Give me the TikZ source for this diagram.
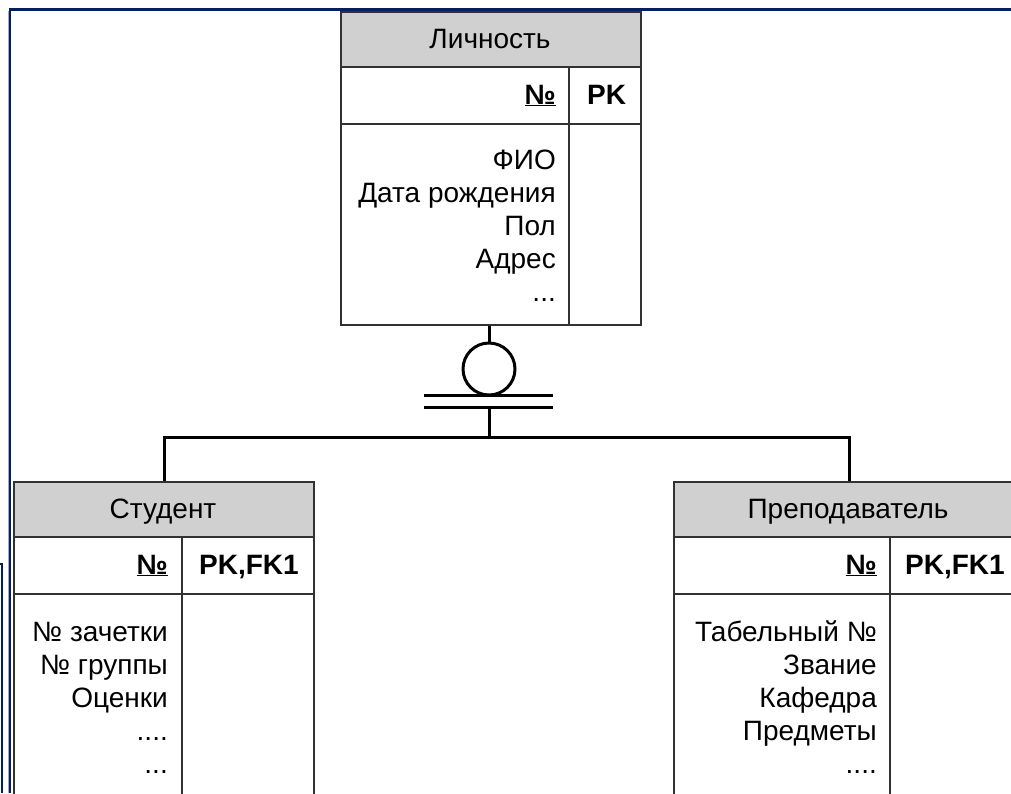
\documentclass[tikz,border=0pt]{standalone}
\usepackage{fontspec}
\setmainfont{Liberation Sans}
\definecolor{framenavy}{RGB}{0,32,96}
\definecolor{framegray}{RGB}{170,170,180}
\definecolor{boxgray}{RGB}{50,50,50}
\definecolor{hdrgray}{RGB}{208,208,208}
\begin{document}
\begin{tikzpicture}[x=1pt,y=-1pt,
  cell/.style={draw=boxgray, line width=2pt, inner sep=0pt, anchor=north west},
  hdrcell/.style={cell, fill=hdrgray},
  conn/.style={draw=black, line width=3pt},
  lbl/.style={font=\fontsize{28}{33}\selectfont, inner sep=0pt},
  rtxt/.style={lbl, anchor=base east},
  ctxt/.style={lbl, anchor=base},
  keytxt/.style={lbl, font=\fontsize{28}{33}\selectfont\bfseries}]
\clip (0,0) rectangle (1011,793);
\fill[white] (0,0) rectangle (1011,793);

% ---------- Личность ----------
\node[hdrcell, minimum width=300, minimum height=55] (lichH) at (340,11) {};
\node[cell, minimum width=228, minimum height=57] (lichK) at (340,66) {};
\node[cell, minimum width=72, minimum height=57] (lichKR) at (568,66) {};
\node[cell, minimum width=228, minimum height=201] (lichB) at (340,123) {};
\node[cell, minimum width=72, minimum height=201] (lichBR) at (568,123) {};
\node[ctxt] (lichT) at (490,48) {Личность};
\node[keytxt, anchor=base east] (lichNo) at (556,104) {\underline{№}};
\node[keytxt, anchor=base west] (lichPK) at (587,104) {PK};
\node[rtxt] (lich1) at (556,169) {ФИО};
\node[rtxt] (lich2) at (556,202) {Дата рождения};
\node[rtxt] (lich3) at (556,235) {Пол};
\node[rtxt] (lich4) at (556,268) {Адрес};
\node[rtxt] (lich5) at (556,301) {...};

% ---------- Студент ----------
\node[hdrcell, minimum width=300, minimum height=55] (studH) at (13,481) {};
\node[cell, minimum width=168, minimum height=57] (studK) at (13,536) {};
\node[cell, minimum width=132, minimum height=57] (studKR) at (181,536) {};
\node[cell, minimum width=168, minimum height=220] (studB) at (13,593) {};
\node[cell, minimum width=132, minimum height=220] (studBR) at (181,593) {};
\node[ctxt] (studT) at (163,518) {Студент};
\node[keytxt, anchor=base east] (studNo) at (168,574) {\underline{№}};
\node[keytxt, anchor=base west] (studPK) at (199,574) {PK,FK1};
\node[rtxt] (stud1) at (168,641) {№ зачетки};
\node[rtxt] (stud2) at (168,674) {№ группы};
\node[rtxt] (stud3) at (168,707) {Оценки};
\node[rtxt] (stud4) at (168,740) {....};
\node[rtxt] (stud5) at (168,773) {...};

% ---------- Преподаватель ----------
\node[hdrcell, minimum width=350, minimum height=55] (prepH) at (673,481) {};
\node[cell, minimum width=216, minimum height=57] (prepK) at (673,536) {};
\node[cell, minimum width=134, minimum height=57] (prepKR) at (889,536) {};
\node[cell, minimum width=216, minimum height=220] (prepB) at (673,593) {};
\node[cell, minimum width=134, minimum height=220] (prepBR) at (889,593) {};
\node[ctxt] (prepT) at (848,518) {Преподаватель};
\node[keytxt, anchor=base east] (prepNo) at (877,574) {\underline{№}};
\node[keytxt, anchor=base west] (prepPK) at (905,574) {PK,FK1};
\node[rtxt] (prep1) at (877,641) {Табельный №};
\node[rtxt] (prep2) at (877,674) {Звание};
\node[rtxt] (prep3) at (877,707) {Кафедра};
\node[rtxt] (prep4) at (877,740) {Предметы};
\node[rtxt] (prep5) at (877,773) {....};

% ---------- категория (подтип) ----------
\node[circle, draw=black, line width=3pt, minimum size=52, inner sep=0pt] (ring) at (489,369) {};
\coordinate (barA1) at (424,395);
\coordinate (barA2) at (553,395);
\coordinate (barB1) at (424,407);
\coordinate (barB2) at (553,407);
\coordinate (barBmid) at (489,407);
\coordinate (bus) at (489,437);

\draw[conn] (lichB.south -| ring.north) -- (ring.north);
\draw[conn] (barA1) -- (barA2);
\draw[conn] (barB1) -- (barB2);
\draw[conn] (barBmid) -- (bus);
\draw[conn] (studH.north) |- (bus) -| (prepH.north);

% ---------- рамка ----------
\draw[framegray, line width=1pt] (8,793) -- (8,10.5);
\draw[framenavy, line width=2.5pt] (10,793) -- (10,9.25) -- (1011,9.25);
\draw[framenavy, line width=2pt] (0,563.5) -- (2,563.5) -- (2,793);
\end{tikzpicture}
\end{document}
